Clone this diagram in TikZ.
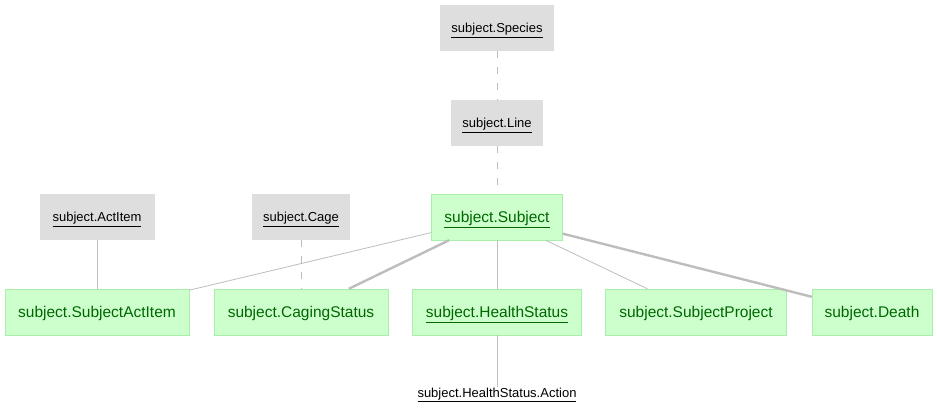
\documentclass[tikz,border=0pt]{standalone}
\usepackage{fontspec}
\setmainfont{Liberation Sans}
\usepackage{xcolor}
\usetikzlibrary{positioning}
\definecolor{refgray}{HTML}{DEDEDE}
\definecolor{modfill}{HTML}{CCFFCC}
\definecolor{modline}{HTML}{A8F0A8}
\definecolor{modtext}{HTML}{006600}
\definecolor{edgegray}{HTML}{BDBDBD}

\begin{document}
\begin{tikzpicture}[x=1pt, y=-1pt,
      ext/.style={fill=refgray, inner sep=0pt, minimum height=46pt, text depth=0pt,
                  font=\fontsize{13}{15}\selectfont},
      mod/.style={draw=modline, fill=modfill, inner sep=0pt, minimum height=46pt,
                  text depth=0pt, text=modtext, font=\fontsize{15.5}{17}\selectfont},
      thin/.style={draw=edgegray, line width=0.8pt},
      heavy/.style={draw=edgegray, line width=2.4pt},
      dep/.style={draw=edgegray, line width=0.8pt, dash pattern=on 6.5pt off 9.5pt}
    ]
      \useasboundingbox (0,0) rectangle (937,415);
      % referenced tables
      \node[ext, minimum width=114pt] (species) at (497,28)  {\underline{subject.Species}};
      \node[ext, minimum width=92pt]  (line)    at (497,123) {\underline{subject.Line}};
      \node[ext, minimum width=115pt] (actitem) at (97,217)  {\underline{subject.ActItem}};
      \node[ext, minimum width=98pt]  (cage)    at (301,217) {\underline{subject.Cage}};
      % models
      \node[mod, minimum width=131pt] (subject) at (497,217) {\underline{subject.Subject}};
      \node[mod, minimum width=184pt] (subjectactitem) at (97,312)  {subject.SubjectActItem};
      \node[mod, minimum width=174pt] (cagingstatus)   at (301,312) {subject.CagingStatus};
      \node[mod, minimum width=169pt] (healthstatus)   at (497,312) {\underline{subject.HealthStatus}};
      \node[mod, minimum width=181pt] (subjectproject) at (696,312) {subject.SubjectProject};
      \node[mod, minimum width=120pt] (death)          at (872,312) {subject.Death};
      \node[inner sep=1pt, font=\fontsize{13}{15}\selectfont] (action) at (497,395) {\underline{subject.HealthStatus.Action}};
      % links
      \draw[dep]   (species) -- (line);
      \draw[dep]   (line) -- (subject);
      \draw[thin]  (actitem) -- (subjectactitem);
      \draw[dep]   (cage) -- (cagingstatus);
      \draw[thin]  (subject) -- (subjectactitem);
      \draw[heavy] (subject) -- (cagingstatus);
      \draw[thin]  (subject) -- (healthstatus);
      \draw[thin]  (subject) -- (subjectproject);
      \draw[heavy] (subject) -- (death);
      \draw[thin]  (healthstatus) -- (action);
    \end{tikzpicture}
\end{document}
